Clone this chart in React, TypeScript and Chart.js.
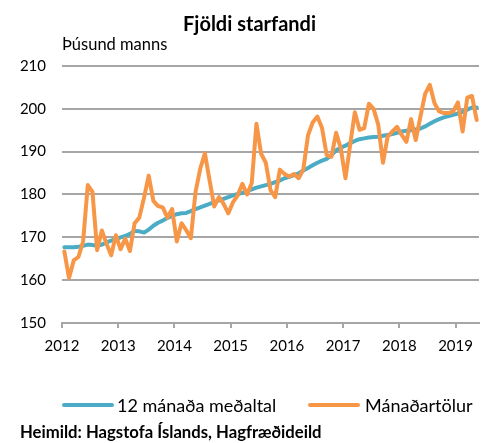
import React, { useEffect, useRef } from 'react';
import { Chart, registerables } from 'chart.js';

Chart.register(...registerables);

const chartTitle = 'Fjöldi starfandi';
const unitLabel = 'Þúsund manns';
const sourceText = 'Heimild: Hagstofa Íslands, Hagfræðideild';
const seriesNames = ['12 mánaða meðaltal', 'Mánaðartölur'];
const yearLabels = ['2012', '2013', '2014', '2015', '2016', '2017', '2018', '2019'];

// Monthly figures, Jan 2012 – May 2019 (thousand persons)
const monthly = [
  166.7, 160.5, 164.6, 165.4, 169.0, 182.2, 180.6, 167.0, 171.6, 168.5, 165.8, 170.5,
  167.2, 169.7, 166.8, 173.3, 174.6, 179.2, 184.4, 178.5, 177.3, 177.0, 174.6, 176.6,
  169.0, 173.3, 171.7, 169.8, 180.6, 186.0, 189.6, 183.3, 177.2, 179.4, 177.8, 175.6,
  178.2, 179.8, 182.5, 180.0, 182.7, 196.5, 189.5, 187.4, 181.0, 179.4, 185.8, 184.8,
  184.2, 184.8, 183.8, 185.8, 193.8, 196.8, 198.2, 195.5, 189.2, 188.8, 194.4, 190.8,
  183.8, 191.6, 199.2, 195.1, 195.5, 201.2, 200.0, 196.3, 187.4, 193.5, 194.7, 195.8,
  193.9, 192.3, 197.6, 192.7, 198.2, 203.5, 205.6, 201.3, 199.4, 199.0, 199.0, 199.4,
  201.5, 194.7, 202.6, 203.0, 197.4,
];

// 12-month moving average
const average12 = [
  167.7, 167.7, 167.7, 167.8, 168.0, 168.3, 168.2, 168.0, 168.3, 168.8, 169.2, 169.6,
  170.0, 170.3, 170.8, 171.5, 171.4, 171.1, 171.8, 172.7, 173.4, 173.9, 174.5, 175.0,
  175.4, 175.6, 175.7, 176.1, 176.6, 177.0, 177.4, 177.8, 178.2, 178.6, 179.0, 179.4,
  179.8, 180.1, 180.4, 180.8, 181.2, 181.6, 181.9, 182.2, 182.5, 182.9, 183.3, 183.8,
  184.1, 184.5, 184.9, 185.6, 186.2, 186.8, 187.4, 187.9, 188.3, 189.2, 190.3, 190.9,
  191.4, 192.0, 192.5, 192.9, 193.1, 193.3, 193.4, 193.5, 193.7, 193.9, 194.1, 194.4,
  194.7, 194.9, 195.0, 195.2, 195.4, 195.9, 196.5, 197.1, 197.6, 198.0, 198.3, 198.6,
  198.9, 199.3, 199.8, 200.3, 200.3,
];

const FONT = 'Lato, "Open Sans", sans-serif';
const TEAL = '#4BACC6';
const ORANGE = '#F79646';
const GRID = '#a6a6a6';
const seriesColors = [TEAL, ORANGE];

export default function App() {
  const canvasRef = useRef<HTMLCanvasElement | null>(null);

  useEffect(() => {
    document.body.style.margin = '0';
    const canvas = canvasRef.current;
    if (!canvas) return;
    const toPoints = (arr: number[]) => arr.map((v, i) => ({ x: i + 0.5, y: v }));
    const chart = new Chart(canvas, {
      type: 'line',
      data: {
        datasets: [
          {
            label: seriesNames[0],
            data: toPoints(average12),
            borderColor: TEAL,
            backgroundColor: TEAL,
            borderWidth: 4,
            pointRadius: 0,
            tension: 0,
            borderJoinStyle: 'round',
            borderCapStyle: 'round',
            order: 2,
          },
          {
            label: seriesNames[1],
            data: toPoints(monthly),
            borderColor: ORANGE,
            backgroundColor: ORANGE,
            borderWidth: 4,
            pointRadius: 0,
            tension: 0,
            borderJoinStyle: 'round',
            borderCapStyle: 'round',
            order: 1,
          },
        ],
      },
      options: {
        responsive: false,
        animation: false,
        layout: { padding: { left: 20, right: 7, top: 0, bottom: 0 } },
        scales: {
          x: {
            type: 'linear',
            min: 0,
            max: monthly.length,
            afterBuildTicks: (axis: any) => {
              axis.ticks = yearLabels.map((_, k) => ({ value: k * 12 }));
            },
            afterFit: (axis: any) => {
              axis.height = 32;
              axis.paddingLeft = 0;
              axis.paddingRight = 0;
            },
            ticks: {
              callback: (value: any) => yearLabels[Math.round(Number(value) / 12)] ?? '',
              font: { family: FONT, size: 15 },
              color: '#000',
              padding: 9,
              maxRotation: 0,
              autoSkip: false,
            },
            grid: {
              drawOnChartArea: false,
              drawTicks: true,
              tickLength: 5,
              color: GRID,
              lineWidth: 2,
            },
            border: { display: true, color: GRID, width: 2 },
          },
          y: {
            min: 150,
            max: 210,
            afterFit: (axis: any) => {
              axis.width = 42;
            },
            ticks: {
              stepSize: 10,
              font: { family: FONT, size: 15 },
              color: '#000',
              padding: 16,
            },
            grid: { color: GRID, lineWidth: 2, drawTicks: false },
            border: { display: false },
          },
        },
        plugins: {
          title: {
            display: true,
            text: chartTitle,
            font: { family: FONT, size: 20, weight: 'bold' },
            color: '#000',
            padding: { top: 13, bottom: 29 },
          },
          subtitle: {
            display: true,
            text: sourceText,
            position: 'bottom',
            align: 'start',
            font: { family: FONT, size: 16.7, weight: 'bold' },
            color: '#000',
            padding: { top: 68, bottom: 0 },
          },
          legend: { display: false },
          tooltip: { enabled: false },
        },
      },
    });
    return () => chart.destroy();
  }, []);

  const legendPos = [
    { line: 62, text: 117 },
    { line: 308, text: 365 },
  ];

  return (
    <div style={{ position: 'relative', width: 486, height: 443 }}>
      <canvas ref={canvasRef} width={486} height={443} style={{ display: 'block' }} />
      <div
        style={{
          position: 'absolute',
          left: 62,
          top: 36,
          fontFamily: FONT,
          fontSize: 16.5,
          lineHeight: 1,
          color: '#000',
          whiteSpace: 'nowrap',
        }}
      >
        {unitLabel}
      </div>
      {seriesNames.map((name, i) => (
        <React.Fragment key={name}>
          <div
            style={{
              position: 'absolute',
              left: legendPos[i].line,
              top: 403,
              width: 52,
              height: 4,
              background: seriesColors[i],
              borderRadius: 2,
            }}
          />
          <div
            style={{
              position: 'absolute',
              left: legendPos[i].text,
              top: 395,
              height: 20,
              lineHeight: '20px',
              fontFamily: FONT,
              fontSize: 18,
              color: '#000',
              whiteSpace: 'nowrap',
            }}
          >
            {name}
          </div>
        </React.Fragment>
      ))}
    </div>
  );
}
